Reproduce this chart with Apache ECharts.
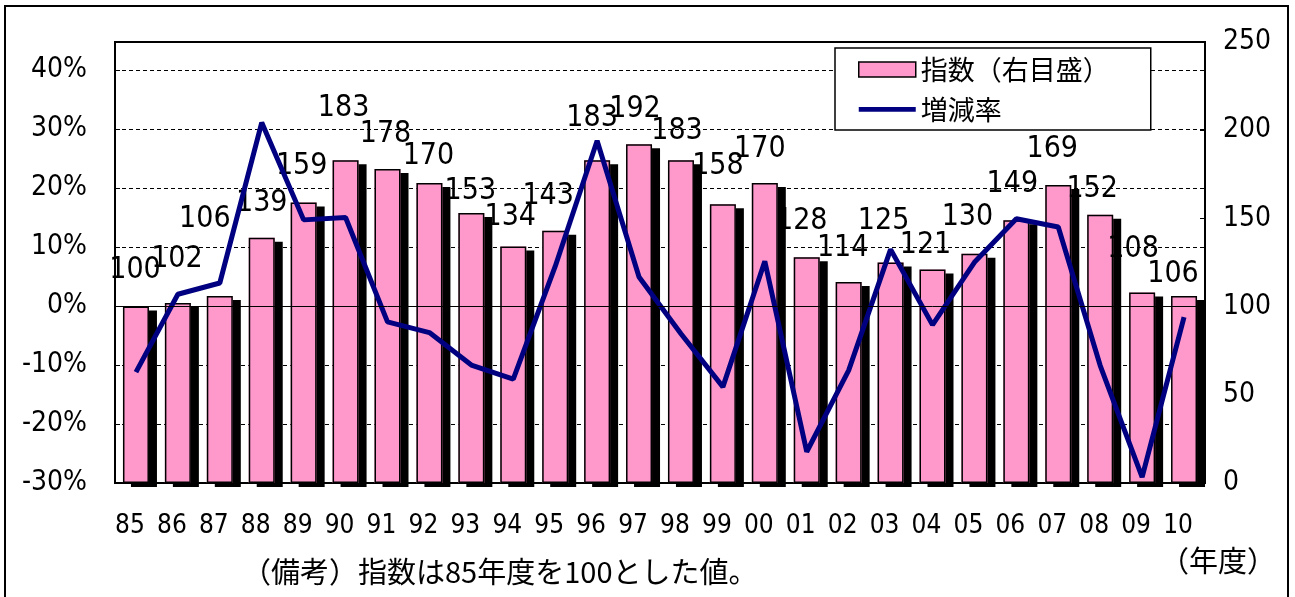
<!DOCTYPE html>
<html><head><meta charset="utf-8">
<script src="https://cdn.jsdelivr.net/npm/echarts@6/dist/echarts.min.js"></script>
<style>html,body{margin:0;padding:0;background:#fff}#c{width:1295px;height:597px}</style>
</head><body><div id="c"></div>
<script>
const categories = ['85','86','87','88','89','90','91','92','93','94','95','96','97','98','99','00','01','02','03','04','05','06','07','08','09','10'];
const indexValues = [100,102,106,139,159,183,178,170,153,134,143,183,192,183,158,170,128,114,125,121,130,149,169,152,108,106];
const rateValues = [-11.2,2.0,3.9,31.1,14.6,15.0,-2.7,-4.5,-10.0,-12.4,6.7,28.0,4.9,-4.7,-13.7,7.6,-24.7,-10.9,9.6,-3.2,7.4,14.8,13.4,-10.1,-29.0,-1.9];
const leftTicks = {min:-30, interval:10};
const rightTicks = {min:0, max:250, interval:50};
const labelShift = [[-1,0],[-1,-8],[-15,-41],[0,1],[-2,0],[-2,-16],[-2,1],[-1,9],[-1,14],[-3,7],[-7,1],[-5,-6],[-4,1],[-4,7],[-5,-2],[-5,2],[-5,0],[-6,2],[-7,-5],[-7,12],[-7,0],[-4,0],[-6,0],[-8,10],[-9,-7],[-11,14]];

const NUM = "'Liberation Sans Narrow','DejaVu Sans Condensed','Noto Sans CJK JP',sans-serif";
const JP = "'Noto Sans CJK JP',sans-serif";

const chart = echarts.init(document.getElementById('c'));
const labeledData = indexValues.map((v,i)=>({value:v,label:{offset:labelShift[i]}}));

chart.setOption({
  animation:false,
  backgroundColor:'#fff',
  grid:{left:115,right:90,top:42,bottom:114,show:true,borderColor:'#000',borderWidth:2,backgroundColor:'transparent'},
  legend:{
    orient:'vertical',left:835,top:48,
    padding:[8,41,7,23],itemGap:13,itemWidth:57,itemHeight:15,
    backgroundColor:'#fff',borderColor:'#000',borderWidth:1.5,
    textStyle:{fontFamily:JP,fontSize:27,color:'#000'},
    data:[
      {name:'指数（右目盛）',icon:'rect',itemStyle:{color:'#FF99CC',borderColor:'#000',borderWidth:1.5,shadowColor:'transparent',shadowOffsetX:0,shadowOffsetY:0}},
      {name:'増減率',icon:'path://M0,0H60V5H0Z',itemStyle:{color:'#000080'}}
    ]
  },
  xAxis:{type:'category',data:categories,
    axisLine:{show:false},axisTick:{show:false},
    axisLabel:{fontFamily:NUM,fontSize:26,color:'#000',margin:30,interval:0,padding:[0,12,0,0]}},
  yAxis:[
    {type:'value',min:leftTicks.min,max:44.75,interval:leftTicks.interval,position:'left',
     axisLine:{show:false},axisTick:{show:true,inside:true,length:5,lineStyle:{color:'#000'}},
     splitLine:{show:true,lineStyle:{color:'#000',type:[4,3],width:1}},
     axisLabel:{fontFamily:NUM,fontSize:28,color:'#000',margin:28,showMaxLabel:false,
       formatter:v=> (Math.abs(v%10)<1e-9 ? v+'%' : '')}},
    {type:'value',min:rightTicks.min,max:rightTicks.max,interval:rightTicks.interval,position:'right',
     axisLine:{show:false},axisTick:{show:true,inside:true,length:5,lineStyle:{color:'#000'}},
     splitLine:{show:false},
     axisLabel:{fontFamily:NUM,fontSize:28,color:'#000',margin:18}}
  ],
  series:[
    {name:'指数（右目盛）',type:'bar',yAxisIndex:1,data:indexValues,barWidth:26,
     itemStyle:{color:'#FF99CC',borderWidth:0,shadowColor:'#000',shadowBlur:0,shadowOffsetX:8,shadowOffsetY:4}},
    {name:'指数枠',type:'bar',yAxisIndex:1,data:labeledData,barWidth:26,barGap:'-100%',
     itemStyle:{color:'rgba(0,0,0,0)',borderColor:'#000',borderWidth:1.5},
     label:{show:true,position:'top',distance:21,fontFamily:NUM,fontSize:30,color:'#000'}},
    {name:'増減率',type:'line',yAxisIndex:0,data:rateValues,symbol:'none',
     lineStyle:{color:'#000080',width:5},itemStyle:{color:'#000080'},
     markLine:{silent:true,symbol:'none',label:{show:false},lineStyle:{color:'#000',type:'solid',width:1},data:[{yAxis:0}]}}
  ],
  graphic:[
    {type:'rect',shape:{x:5,y:6,width:1283,height:600},style:{fill:'none',stroke:'#000',lineWidth:2},silent:true,z:100},
    {type:'text',left:242,top:557,style:{text:'（備考）指数は85年度を100とした値。',font:"29px 'Noto Sans CJK JP'",fill:'#000'}},
    {type:'text',left:1160,top:546,style:{text:'（年度）',font:"29px 'Noto Sans CJK JP'",fill:'#000'}}
  ]
});
</script></body></html>
